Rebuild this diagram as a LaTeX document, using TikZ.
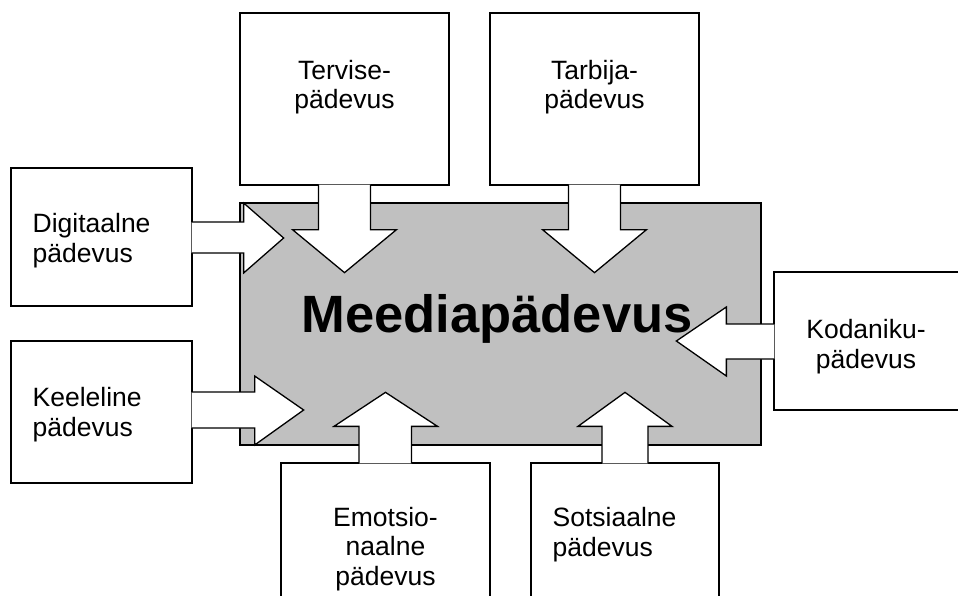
\documentclass[tikz,border=0pt]{standalone}
\usepackage{fontspec}
\setmainfont{Liberation Sans}
\usepackage{tikz}
\usetikzlibrary{positioning}
\usetikzlibrary{calc}
\definecolor{silver}{RGB}{192,192,192}

\begin{document}
\begin{tikzpicture}[x=1pt,y=-1pt,line width=1.3pt,
		box/.style={rectangle,draw,fill=white,inner sep=0pt},
		lbl/.style={inner sep=0pt,font=\fontsize{26.5}{29.5}\selectfont},
		pointer/.style={draw,fill=white,line join=miter}]

	\useasboundingbox (0,0) rectangle (958,596);
	\clip (0,0) rectangle (958,596);

	% keskmine ala
	\node[box,fill=silver,minimum width=521pt,minimum height=242pt] (media) at (500.5,324) {};
	\node[inner sep=0pt,anchor=base,font=\bfseries\fontsize{52.5}{60}\selectfont] (mediat) at (497,332) {Meediapädevus};

	% kastid
	\node[box,minimum width=209pt,minimum height=172pt] (terv) at (344.5,99) {};
	\node[box,minimum width=209pt,minimum height=172pt] (tarb) at (594.5,99) {};
	\node[box,minimum width=181pt,minimum height=138pt] (digi) at (101.5,237) {};
	\node[box,minimum width=181pt,minimum height=142pt] (keel) at (101.5,412) {};
	\node[box,minimum width=188pt,minimum height=138pt] (koda) at (868,341) {};
	\node[box,minimum width=209pt,minimum height=177pt] (emot) at (385.5,551.5) {};
	\node[box,minimum width=188pt,minimum height=177pt] (sots) at (625,551.5) {};

	% nooled
	\draw[pointer] ($(terv.south)+(-26,-1)$) -- ++(0,45) -- ++(-26,0) -- ++(52,43)
		-- ++(52,-43) -- ++(-26,0) -- ++(0,-45);
	\draw[pointer] ($(tarb.south)+(-26,-1)$) -- ++(0,45) -- ++(-26,0) -- ++(52,43)
		-- ++(52,-43) -- ++(-26,0) -- ++(0,-45);
	\draw[pointer] ($(digi.east)+(-1,-15)$) -- ++(52,0) -- ++(0,-19) -- ++(40,35)
		-- ++(-40,35) -- ++(0,-20) -- ++(-52,0);
	\draw[pointer] ($(keel.east)+(-1,-20)$) -- ++(63,0) -- ++(0,-16) -- ++(49,34)
		-- ++(-49,35) -- ++(0,-17) -- ++(-63,0);
	\draw[pointer] ($(koda.west)+(1,-17)$) -- ++(-48,0) -- ++(0,-17) -- ++(-50,34)
		-- ++(50,35) -- ++(0,-17) -- ++(48,0);
	\draw[pointer] ($(emot.north)+(-26.5,1)$) -- ++(0,-37) -- ++(-25,0) -- ++(51.5,-34)
		-- ++(52,34) -- ++(-26,0) -- ++(0,37);
	\draw[pointer] ($(sots.north)+(-23,1)$) -- ++(0,-37) -- ++(-24,0) -- ++(47,-34)
		-- ++(47,34) -- ++(-24,0) -- ++(0,37);

	% tekstid (base = viimase rea alusjoon)
	\node[lbl,align=center,anchor=base] (tervt) at (344.5,109) {Tervise-\\pädevus};
	\node[lbl,align=center,anchor=base] (tarbt) at (594.5,109) {Tarbija-\\pädevus};
	\node[lbl,align=left,anchor=base west] (digit) at (32,262) {Digitaalne\\pädevus};
	\node[lbl,align=left,anchor=base west] (keelt) at (32,436) {Keeleline\\pädevus};
	\node[lbl,align=center,anchor=base] (kodat) at (866,368) {Kodaniku-\\pädevus};
	\node[lbl,align=center,anchor=base] (emott) at (385.5,585) {Emotsio-\\naalne\\pädevus};
	\node[lbl,align=left,anchor=base west] (sotst) at (552,556) {Sotsiaalne\\pädevus};
\end{tikzpicture}
\end{document}
